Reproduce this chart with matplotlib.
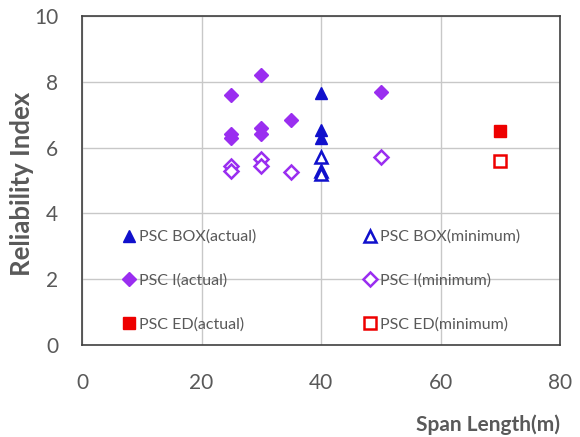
import matplotlib.pyplot as plt

# Data
box_act_x = [40, 40, 40]
box_act_y = [7.65, 6.55, 6.3]
box_min_x = [40, 40, 40]
box_min_y = [5.7, 5.3, 5.2]

i_act_x = [25, 25, 25, 30, 30, 30, 35, 50]
i_act_y = [7.6, 6.4, 6.3, 8.2, 6.6, 6.4, 6.85, 7.7]
i_min_x = [25, 25, 30, 30, 35, 50]
i_min_y = [5.45, 5.3, 5.65, 5.45, 5.25, 5.7]

ed_act_x = [70]
ed_act_y = [6.5]
ed_min_x = [70]
ed_min_y = [5.6]

blue = '#1010CC'
purple = '#9A2EF0'
red = '#EE0000'
txt = '#595959'

plt.rcParams['font.family'] = ['Lato', 'DejaVu Sans']

fig = plt.figure(figsize=(5.8, 4.37), dpi=100)
ax = fig.add_axes([82 / 580, 92 / 437, 478 / 580, 329 / 437])

h1, = ax.plot(box_act_x, box_act_y, '^', color=blue, ms=9, ls='none', label='PSC BOX(actual)')
h2, = ax.plot(i_act_x, i_act_y, 'D', color=purple, ms=7, ls='none', label='PSC I(actual)')
h3, = ax.plot(ed_act_x, ed_act_y, 's', color=red, ms=8, ls='none', label='PSC ED(actual)')
h4, = ax.plot(box_min_x, box_min_y, '^', mfc='white', mec=blue, mew=1.8, ms=9, ls='none',
              label='PSC BOX(minimum)')
h5, = ax.plot(i_min_x, i_min_y, 'D', mfc='white', mec=purple, mew=1.8, ms=7, ls='none',
              label='PSC I(minimum)')
h6, = ax.plot(ed_min_x, ed_min_y, 's', mfc='white', mec=red, mew=1.8, ms=9, ls='none',
              label='PSC ED(minimum)')

ax.set_xlim(0, 80)
ax.set_ylim(0, 10)
ax.set_xticks([0, 20, 40, 60, 80])
ax.set_yticks([0, 2, 4, 6, 8, 10])
ax.grid(True, color='#c8c8c8', lw=1)
ax.set_axisbelow(True)
for s in ax.spines.values():
    s.set_color('#404040')
    s.set_linewidth(1.2)
ax.tick_params(length=0, labelsize=15, labelcolor=txt, pad=17)
ax.tick_params(axis='x', pad=20)

ax.set_ylabel('Reliability Index', fontsize=18.5, fontweight='bold', color=txt)
ax.yaxis.set_label_coords(-0.10, 0.49)
ax.set_xlabel('Span Length(m)', fontsize=15, fontweight='bold', color=txt)
ax.xaxis.set_label_coords(1.0, -0.21)
ax.xaxis.label.set_ha('right')

leg_kw = dict(loc='upper left', frameon=False, fontsize=11.5, handletextpad=0.2,
              handlelength=0.8, labelspacing=1.85, borderpad=0, borderaxespad=0,
              labelcolor=txt)
leg1 = ax.legend([h1, h2, h3], [h.get_label() for h in (h1, h2, h3)],
                 bbox_to_anchor=(0.085, 0.35), **leg_kw)
ax.add_artist(leg1)
ax.legend([h4, h5, h6], [h.get_label() for h in (h4, h5, h6)],
          bbox_to_anchor=(0.59, 0.35), **leg_kw)

fig.savefig('out.png', dpi=100)
